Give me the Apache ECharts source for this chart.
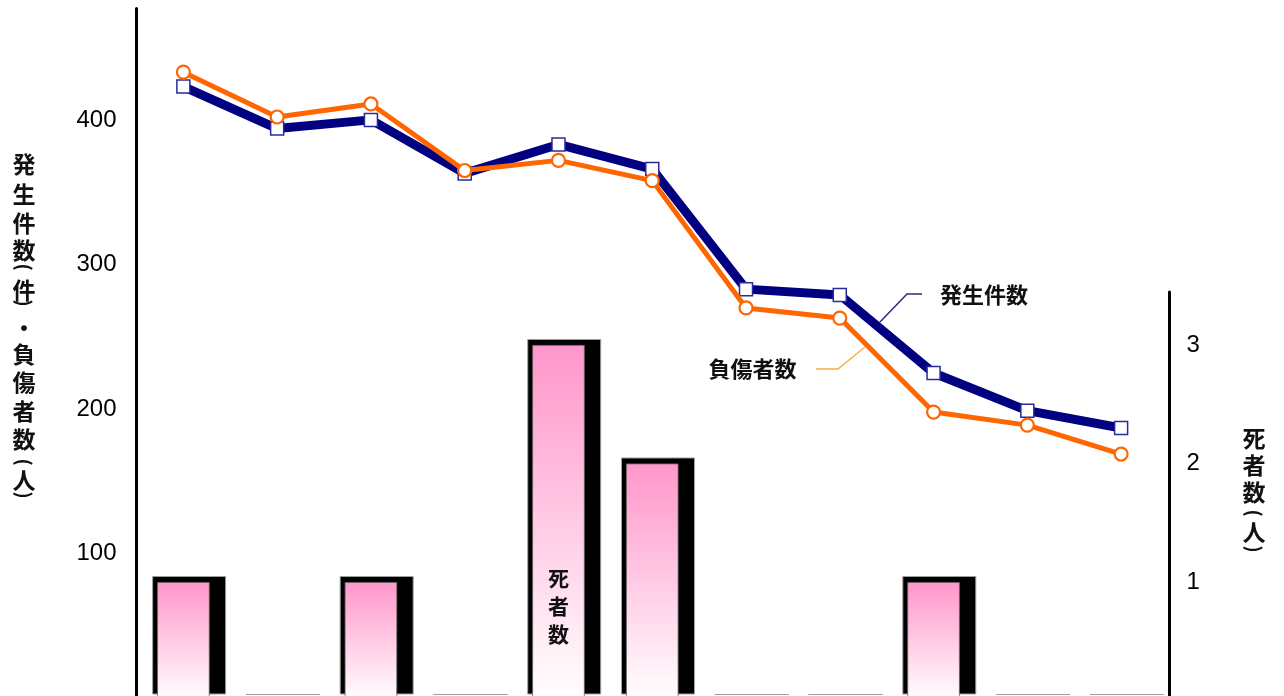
<!DOCTYPE html>
<html><head><meta charset="utf-8">
<script src="https://cdn.jsdelivr.net/npm/echarts@6/dist/echarts.min.js"></script>
<style>
html,body{margin:0;padding:0;background:#fff;overflow:hidden;width:1284px;height:696px}
#c{width:1284px;height:704px}
</style>
</head><body><div id="c"></div>
<script>
// ---- data ----
const categories = ['1','2','3','4','5','6','7','8','9','10','11'];
const incidents = [423, 394, 400, 363, 383, 366, 283, 279, 225, 199, 187]; // 発生件数
const injuries  = [433, 402, 411, 365, 372, 358, 270, 263, 198, 189, 169]; // 負傷者数
const deaths    = [1, 0, 1, 0, 3, 2, 0, 0, 1, 0, 0];                          // 死者数
const leftTicks = [100, 200, 300, 400];
const rightTicks = [1, 2, 3];

const CJK = "'Noto Sans CJK JP','Noto Sans CJK SC',sans-serif";
const NUM = "'Liberation Sans Narrow','Arial Narrow','Liberation Sans',sans-serif";

const chart = echarts.init(document.getElementById('c'), null, {renderer:'canvas'});

const maxDeathIdx = deaths.indexOf(Math.max(...deaths));
const pinkData = deaths.map((v, i) => i === maxDeathIdx ? {
  value: v,
  label: {show: true, position: 'insideBottom', distance: 52, formatter: '死\n者\n数',
    fontFamily: CJK, fontWeight: 'bold', fontSize: 21, lineHeight: 28, color: '#111'}
} : v);

function vchars(list, x, size) {
  return list.map(([ch, y, rot]) => ({
    type: 'text', x: x, y: y, rotation: rot ? -Math.PI / 2 : 0, silent: true,
    style: {text: ch, fill: '#111', fontFamily: CJK, fontWeight: 'bold',
      fontSize: rot ? size - 4 : size,
      align: 'center', verticalAlign: 'middle', textAlign: 'center', textVerticalAlign: 'middle'}
  }));
}

const leftTitle = [['発',164],['生',194],['件',223],['数',250],['(',267,1],['件',290],[')',303,1],['・',328],
  ['負',354],['傷',382],['者',411],['数',439],['(',462,1],['人',480],[')',495,1]];
const rightTitle = [['死',438],['者',465],['数',492],['(',513,1],['人',532],[')',549,1]];

const option = {
  animation: false,
  backgroundColor: '#fff',
  grid: [
    {left: 136.5, right: 1284 - 1168, top: 8.5, bottom: 704 - 698.5},      // lines
    {left: 136.5, right: 1284 - 1168, top: 292, bottom: 704 - 700.5},      // pink bars
    {left: 142.25, right: 1284 - 1173.75, top: 286, bottom: 704 - 694.5}   // bar shadows
  ],
  xAxis: [
    {type: 'category', data: categories, gridIndex: 0, show: false},
    {type: 'category', data: categories, gridIndex: 1, show: false},
    {type: 'category', data: categories, gridIndex: 2, show: false}
  ],
  yAxis: [
    {type: 'value', gridIndex: 0, min: 0, max: 477, interval: 100, position: 'left',
      axisLine: {show: true, lineStyle: {color: '#000', width: 3}},
      axisTick: {show: false}, splitLine: {show: false},
      axisLabel: {margin: 20, fontFamily: NUM, fontSize: 24, color: '#000',
        formatter: v => leftTicks.includes(v) ? String(v) : ''}},
    {type: 'value', gridIndex: 1, min: 0, max: 3.447, interval: 1, position: 'right', offset: 1.5,
      axisLine: {show: true, lineStyle: {color: '#000', width: 3}},
      axisTick: {show: false}, splitLine: {show: false},
      axisLabel: {margin: 17, fontFamily: NUM, fontSize: 24, color: '#000',
        formatter: v => rightTicks.includes(v) ? String(v) : ''}},
    {type: 'value', gridIndex: 2, min: 0, max: 3.447, show: false}
  ],
  series: [
    {name: 'shadow', type: 'bar', xAxisIndex: 2, yAxisIndex: 2, data: deaths, barWidth: 74,
      silent: true, z: 1,
      itemStyle: {color: '#000', borderColor: '#a0a0a0', borderWidth: 1}},
    {name: '死者数', type: 'bar', xAxisIndex: 1, yAxisIndex: 1, data: pinkData, barWidth: 52.5,
      silent: true, z: 2,
      itemStyle: {color: {type: 'linear', x: 0, y: 0, x2: 0, y2: 1,
        colorStops: [{offset: 0, color: '#FF96CA'}, {offset: 1, color: '#FFFFFF'}]},
        borderColor: '#666', borderWidth: 0.8}},
    {name: '発生件数', type: 'line', xAxisIndex: 0, yAxisIndex: 0, data: incidents, z: 3,
      lineStyle: {color: '#000080', width: 9}, symbol: 'rect', symbolSize: 13, showAllSymbol: true,
      itemStyle: {color: '#fff', borderColor: '#2a2a99', borderWidth: 1.5}, silent: true},
    {name: '負傷者数', type: 'line', xAxisIndex: 0, yAxisIndex: 0, data: injuries, z: 4,
      lineStyle: {color: '#FF6600', width: 5}, symbol: 'circle', symbolSize: 13, showAllSymbol: true,
      itemStyle: {color: '#fff', borderColor: '#FF6600', borderWidth: 2.2}, silent: true}
  ],
  graphic: [
    ...vchars(leftTitle, 24, 23),
    ...vchars(rightTitle, 1254, 23),
    {type: 'text', x: 984, y: 295, silent: true,
      style: {text: '発生件数', fill: '#111', fontFamily: CJK, fontWeight: 'bold', fontSize: 22,
        align: 'center', verticalAlign: 'middle', textAlign: 'center', textVerticalAlign: 'middle'}},
    {type: 'text', x: 752.5, y: 368.5, silent: true,
      style: {text: '負傷者数', fill: '#111', fontFamily: CJK, fontWeight: 'bold', fontSize: 22,
        align: 'center', verticalAlign: 'middle', textAlign: 'center', textVerticalAlign: 'middle'}},
    {type: 'polyline', silent: true, shape: {points: [[922, 294], [907, 294], [880, 322]]},
      style: {stroke: '#2a2a8a', lineWidth: 1.5, fill: null}},
    {type: 'polyline', silent: true, shape: {points: [[816, 369], [838, 369], [865, 347]]},
      style: {stroke: '#FFAA44', lineWidth: 1.5, fill: null}}
  ]
};
chart.setOption(option);
</script>
</body></html>
